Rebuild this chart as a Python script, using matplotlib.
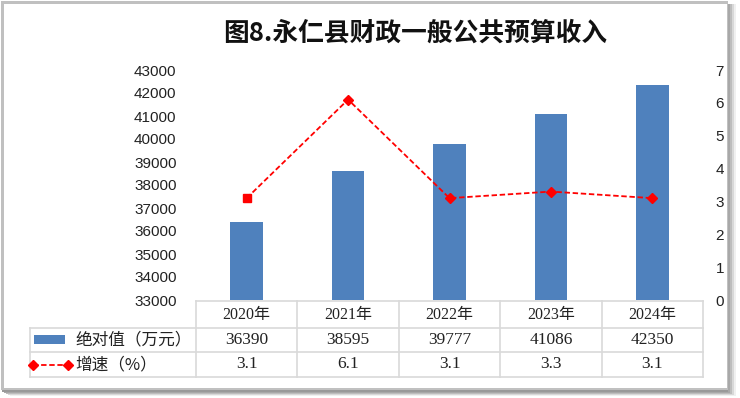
import matplotlib.pyplot as plt
from matplotlib.patches import Rectangle
from matplotlib.lines import Line2D
from matplotlib.transforms import blended_transform_factory

years = ["2020年", "2021年", "2022年", "2023年", "2024年"]
revenue = [36390, 38595, 39777, 41086, 42350]
growth = [3.1, 6.1, 3.1, 3.3, 3.1]
bar_label = "绝对值（万元）"
line_label = "增速（%）"
title = "图8.永仁县财政一般公共预算收入"

W, H = 740, 398
fig = plt.figure(figsize=(W / 100, H / 100), dpi=100)
cjk = ["Noto Sans CJK SC", "DejaVu Sans"]
num = ["Liberation Serif", "Noto Sans CJK SC"]

# frame with a soft shadow on the right and bottom
for i, g in enumerate(["#f0f0f0", "#d8d8d8", "#bdbdbd", "#a8a8a8", "#999999"]):
    fig.patches.append(Rectangle(((10 - 2 * i) / W, (2 + i) / H), 726 / W, (392 - i) / H,
                                 transform=fig.transFigure, facecolor=g, edgecolor="none", zorder=-5))
fig.patches.append(Rectangle((1 / W, 8 / H), 727 / W, 389 / H, transform=fig.transFigure,
                             facecolor="#c0c0c0", edgecolor="none", zorder=-4))
fig.patches.append(Rectangle((4 / W, 10 / H), 723 / W, 384 / H, transform=fig.transFigure,
                             facecolor="white", edgecolor="none", zorder=-3))

x0, x1, y_top, y_bot = 196, 703, 70, 300
ax = fig.add_axes([x0 / W, 1 - y_bot / H, (x1 - x0) / W, (y_bot - y_top) / H])
ax.set_facecolor("none")
xs = list(range(len(years)))
ax.bar(xs, revenue, width=0.32, color="#4f81bd", zorder=2)
ax.set_xlim(-0.5, len(years) - 0.5)
ax.set_ylim(33000, 43000)
ax.set_yticks(range(33000, 43001, 1000))
ax.set_xticks([])
ax.tick_params(axis="y", length=0, pad=14, labelsize=11)
for t in ax.get_yticklabels():
    t.set_fontfamily("Liberation Sans")
    t.set_color("#222222")
for s in ax.spines.values():
    s.set_visible(False)

ax2 = ax.twinx()
ax2.plot(xs, growth, color="#ff0000", linestyle=(0, (3, 1.5)), linewidth=1.3, zorder=3)
ax2.plot(xs[:1], growth[:1], "s", color="#ff0000", markersize=5.5, zorder=4)
ax2.plot(xs[1:], growth[1:], "D", color="#ff0000", markersize=5.5, zorder=4)
ax2.set_ylim(0, 7)
ax2.set_yticks(range(0, 8))
ax2.tick_params(axis="y", length=0, pad=9, labelsize=11)
for t in ax2.get_yticklabels():
    t.set_fontfamily("Liberation Sans")
    t.set_color("#222222")
for s in ax2.spines.values():
    s.set_visible(False)

# data table under the plot
tr = blended_transform_factory(ax.transData, fig.transFigure)
left_x = -0.5 - 166 / 101.4
rows_y = [301, 328, 352, 377]
fy = lambda y: 1 - y / H
grid = dict(color="#d9d9d9", linewidth=1.2, transform=tr, clip_on=False)
ax.add_line(Line2D([-0.5, 4.5], [fy(rows_y[0])] * 2, **grid))
for y in rows_y[1:]:
    ax.add_line(Line2D([left_x, 4.5], [fy(y)] * 2, **grid))
for xv in [-0.5 + k for k in range(len(years) + 1)]:
    ax.add_line(Line2D([xv, xv], [fy(rows_y[0]), fy(rows_y[-1])], **grid))
ax.add_line(Line2D([left_x, left_x], [fy(rows_y[1]), fy(rows_y[-1])], **grid))

for i, x in enumerate(xs):
    ax.text(x, fy((rows_y[0] + rows_y[1]) / 2), years[i], transform=tr, ha="center", va="center",
            fontsize=11.5, family=num, color="#222222")
    ax.text(x, fy((rows_y[1] + rows_y[2]) / 2), str(revenue[i]), transform=tr, ha="center", va="center",
            fontsize=12.5, family=num, color="#222222")
    ax.text(x, fy((rows_y[2] + rows_y[3]) / 2), str(growth[i]), transform=tr, ha="center", va="center",
            fontsize=12.5, family=num, color="#222222")

# legend keys inside the row label cells
ym1 = fy((rows_y[1] + rows_y[2]) / 2)
ym2 = fy((rows_y[2] + rows_y[3]) / 2)
fig.patches.append(Rectangle((34 / W, ym1 - 4 / H), 31 / W, 9 / H, transform=fig.transFigure,
                             facecolor="#4f81bd", edgecolor="none"))
fig.text(75 / W, ym1, bar_label, ha="left", va="center", fontsize=12, family=cjk, color="#222222")
fig.lines.append(Line2D([33 / W, 68 / W], [ym2, ym2], transform=fig.transFigure, color="#ff0000",
                        linestyle=(0, (3, 1.5)), linewidth=1.3, marker="D", markersize=5,
                        markevery=[0, 1]))
fig.text(75 / W, ym2, line_label, ha="left", va="center", fontsize=12, family=cjk, color="#222222")

fig.text(415 / W, 1 - 33 / H, title, ha="center", va="center", fontsize=18.5, fontweight="bold",
         family=cjk, color="#111111")

fig.savefig("out.png", dpi=100)
